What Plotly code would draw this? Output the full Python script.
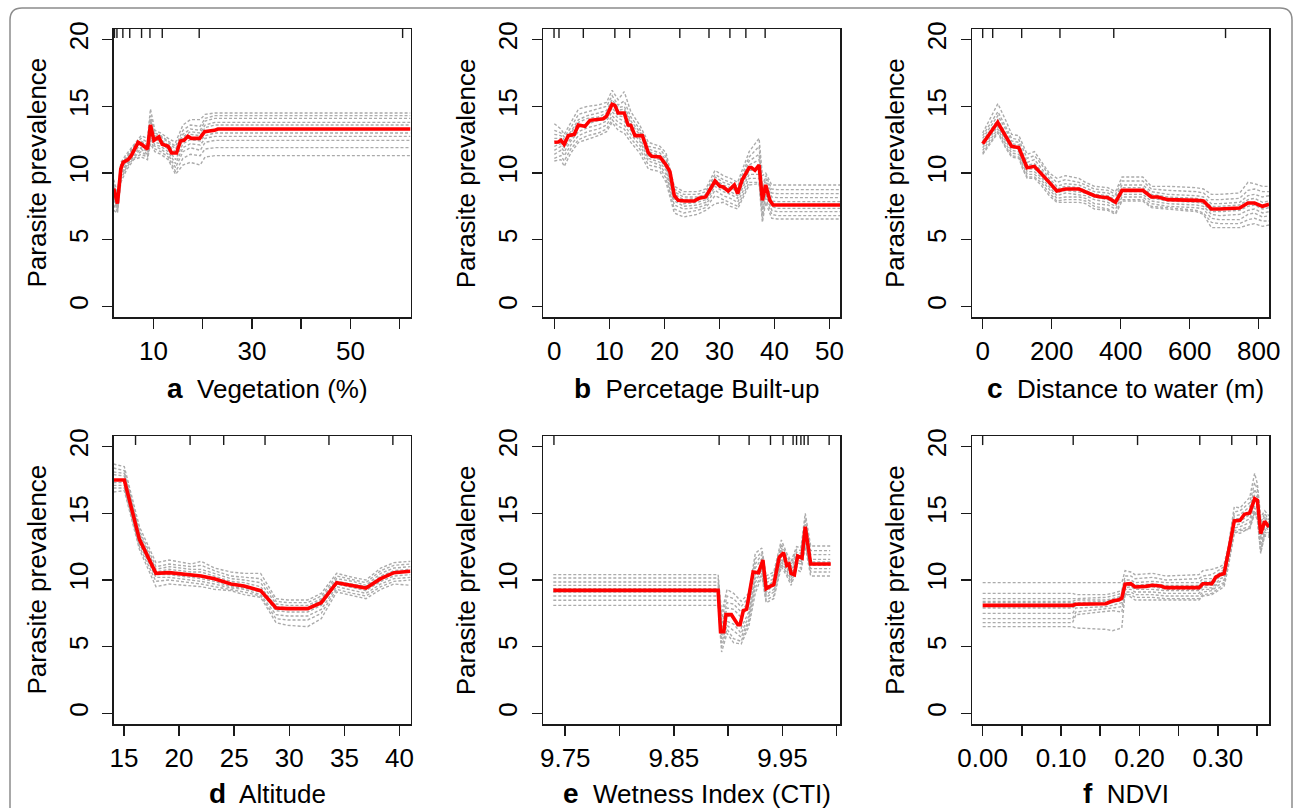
import plotly.graph_objects as go

FONT = "Liberation Sans, Arial, Helvetica, sans-serif"
W, H = 1295, 808
RED = "#ff0000"
GRAY = "#ababab"
INK = "#1a1a1a"

Y_TICKS = [0, 5, 10, 15, 20]
Y_RANGE = [-0.8, 20.8]
RUG_TOP, RUG_BOTTOM = 20.8, 20.12
Y_TITLE = "Parasite prevalence"

# ---------------- panel a : Vegetation (%) ----------------
A_X = [1.95, 2.7, 3.38, 3.86, 4.87, 5.5, 6.9, 7.6, 8.8, 9.4, 10.1, 11.1, 11.8, 13.0, 13.7,
       14.7, 15.5, 16.2, 17.0, 17.7, 19.4, 20.4, 22.4, 23.1, 62.2]
A_Y = [8.83, 7.7, 10.3, 10.8, 11.0, 11.3, 12.3, 12.15, 11.8, 13.6, 12.45, 12.7, 12.15, 12.0, 11.5,
       11.5, 12.4, 12.45, 12.75, 12.6, 12.6, 13.1, 13.2, 13.3, 13.3]
A_GX = [1.95, 2.7, 3.4, 4.5, 6.0, 7.5, 8.8, 9.4, 10.3, 11.5, 13.0, 14.5, 16.0, 17.5, 19.5, 20.5, 22.5, 62.2]
A_GRAY = [
    [9.5, 8.5, 10.8, 11.4, 12.1, 12.8, 12.6, 14.8, 13.2, 13.0, 12.6, 12.3, 13.6, 14.0, 14.0, 14.4, 14.5, 14.5],
    [9.2, 8.1, 10.6, 11.2, 12.0, 12.6, 12.3, 14.3, 13.0, 12.8, 12.4, 12.0, 13.2, 13.6, 13.5, 14.1, 14.3, 14.3],
    [9.0, 8.0, 10.5, 11.1, 11.9, 12.4, 12.1, 14.0, 12.8, 12.7, 12.3, 11.8, 12.9, 13.3, 13.2, 13.9, 14.1, 14.1],
    [8.9, 7.9, 10.4, 11.0, 11.8, 12.3, 12.0, 13.8, 12.7, 12.5, 12.1, 11.6, 12.7, 13.1, 13.0, 13.6, 13.8, 13.8],
    [8.6, 7.6, 10.2, 10.9, 11.6, 12.1, 11.8, 13.4, 12.5, 12.4, 12.0, 11.4, 12.5, 12.9, 12.8, 13.4, 13.6, 13.6],
    [8.4, 7.4, 10.0, 10.7, 11.5, 11.9, 11.6, 13.0, 12.3, 12.2, 11.8, 11.0, 12.2, 12.5, 12.4, 12.8, 13.0, 13.0],
    [8.2, 7.3, 9.9, 10.6, 11.3, 11.8, 11.4, 12.8, 12.1, 12.0, 11.6, 10.7, 11.9, 12.2, 12.1, 12.6, 12.75, 12.75],
    [8.0, 7.2, 9.7, 10.5, 11.2, 11.6, 11.3, 12.6, 12.0, 11.8, 11.4, 10.4, 11.6, 11.9, 11.7, 12.3, 12.45, 12.45],
    [7.6, 7.1, 9.5, 10.4, 11.1, 11.4, 11.2, 12.4, 11.8, 11.6, 11.2, 10.1, 11.1, 11.4, 11.3, 11.8, 11.9, 11.9],
    [7.2, 7.0, 9.3, 10.2, 11.0, 11.2, 11.0, 12.2, 11.6, 11.4, 11.0, 9.9, 10.6, 10.8, 10.6, 11.2, 11.3, 11.3],
]
A_RUG = [2.1, 2.6, 3.8, 5.2, 7.6, 9.3, 11.8, 19.3, 60.6]
A_TICKS = [10, 20, 30, 40, 50, 60]
A_TICKTEXT = ["10", "", "30", "", "50", ""]
A_RANGE = [1.9, 62.2]

# ---------------- panel b : Percetage Built-up ----------------
B_X = [0, 0.73, 1.2, 1.8, 2.54, 3.63, 4.36, 5.57, 6.48, 7.7, 8.9, 9.5, 10.5, 11.0, 11.6, 12.7, 13.4,
       13.9, 14.65, 16.0, 17.1, 17.7, 19.2, 20.3, 21.0, 21.8, 22.5, 23.7, 25.4, 26.3, 27.5, 29.2,
       30.1, 30.7, 31.6, 32.7, 33.3, 34.1, 35.4, 35.8, 36.45, 37.2, 37.8, 38.4, 39.15, 39.75, 51.9]
B_Y = [12.3, 12.33, 12.45, 12.15, 12.8, 12.9, 13.6, 13.5, 13.95, 14.0, 14.07, 14.27, 15.15, 15.07,
       14.5, 14.5, 13.6, 13.57, 12.8, 12.8, 11.5, 11.25, 11.2, 10.6, 10.1, 8.3, 7.95, 7.9, 7.9, 8.1,
       8.2, 9.4, 9.0, 8.95, 8.65, 9.1, 8.45, 9.45, 10.4, 10.4, 10.2, 10.6, 7.95, 9.1, 7.95, 7.6, 7.6]
B_GX = [0, 1.2, 1.8, 3.0, 4.4, 6.0, 8.0, 9.5, 10.5, 11.6, 12.7, 13.9, 15.5, 17.1, 19.2, 20.3, 21.8,
        23.5, 26.0, 27.5, 29.2, 30.7, 32.0, 33.3, 35.4, 37.2, 37.8, 38.4, 39.5, 40.5, 51.9]
B_GRAY = [
    [13.7, 13.3, 12.9, 13.8, 14.8, 15.0, 15.1, 15.3, 16.2, 15.5, 16.1, 14.6, 13.6, 12.3, 12.0, 11.5, 9.0, 8.6, 8.6, 8.8, 10.2, 9.8, 9.6, 9.3, 11.6, 12.6, 9.8, 10.0, 9.1, 9.1, 9.1],
    [13.2, 13.0, 12.7, 13.4, 14.4, 14.6, 14.8, 15.0, 15.8, 15.1, 15.4, 14.2, 13.3, 12.0, 11.8, 11.2, 8.8, 8.4, 8.4, 8.6, 9.9, 9.5, 9.3, 9.0, 11.2, 12.0, 9.0, 9.8, 8.8, 8.75, 8.75],
    [12.9, 12.8, 12.5, 13.1, 14.0, 14.3, 14.5, 14.7, 15.5, 14.9, 15.0, 13.9, 13.1, 11.8, 11.5, 11.0, 8.6, 8.2, 8.2, 8.4, 9.7, 9.3, 9.1, 8.8, 10.9, 11.4, 8.6, 9.6, 8.5, 8.45, 8.45],
    [12.6, 12.6, 12.3, 13.0, 13.8, 14.1, 14.2, 14.5, 15.3, 14.7, 14.8, 13.7, 12.9, 11.6, 11.3, 10.8, 8.4, 8.0, 8.1, 8.3, 9.5, 9.1, 8.9, 8.6, 10.6, 11.0, 8.3, 9.3, 8.2, 8.15, 8.15],
    [12.0, 12.2, 11.9, 12.6, 13.4, 13.7, 13.9, 14.1, 14.9, 14.3, 14.2, 13.4, 12.6, 11.3, 11.0, 10.4, 8.1, 7.7, 7.8, 8.0, 9.2, 8.8, 8.6, 8.3, 10.2, 10.2, 7.7, 8.9, 7.9, 7.85, 7.85],
    [11.7, 12.0, 11.6, 12.4, 13.1, 13.4, 13.6, 13.9, 14.6, 14.1, 13.9, 13.2, 12.4, 11.1, 10.8, 10.2, 7.9, 7.5, 7.6, 7.8, 9.0, 8.6, 8.4, 8.1, 9.9, 9.9, 7.3, 8.7, 7.5, 7.35, 7.35],
    [11.4, 11.7, 11.3, 12.1, 12.8, 13.1, 13.3, 13.6, 14.3, 13.8, 13.6, 12.9, 12.1, 10.9, 10.6, 9.9, 7.6, 7.3, 7.4, 7.6, 8.7, 8.3, 8.1, 7.8, 9.6, 9.6, 7.0, 8.4, 7.2, 7.1, 7.1],
    [11.1, 11.3, 10.9, 11.8, 12.5, 12.8, 13.0, 13.3, 14.0, 13.5, 13.3, 12.6, 11.8, 10.6, 10.4, 9.6, 7.3, 7.0, 7.2, 7.4, 8.3, 8.0, 7.8, 7.5, 9.3, 9.3, 6.6, 8.1, 6.9, 6.8, 6.8],
    [10.9, 11.0, 10.5, 11.5, 12.3, 12.5, 12.8, 13.1, 13.8, 13.2, 13.0, 12.3, 11.5, 10.3, 10.1, 9.3, 7.0, 6.7, 6.9, 7.2, 7.7, 7.8, 7.5, 7.3, 9.1, 9.2, 6.3, 7.8, 6.6, 6.55, 6.55],
]
B_RUG = [-0.05, 0.85, 5.27, 11.0, 13.7, 22.8, 28.1, 31.9, 34.8, 38.3]
B_TICKS = [0, 10, 20, 30, 40, 50]
B_TICKTEXT = ["0", "10", "20", "30", "40", "50"]
B_RANGE = [-2.0, 51.9]

# ---------------- panel c : Distance to water (m) ----------------
C_X = [0, 43.5, 65.7, 84, 104.5, 116, 128.6, 150, 169, 193, 215, 240, 279, 298, 324, 343, 363, 385,
       404, 440, 464, 489, 508, 537, 581, 619, 640, 663, 687, 745, 769, 788, 811, 830]
C_Y = [12.2, 13.8, 12.8, 12.0, 11.9, 11.1, 10.4, 10.5, 10.0, 9.3, 8.65, 8.8, 8.8, 8.6, 8.3, 8.2, 8.15,
       7.8, 8.7, 8.7, 8.7, 8.2, 8.2, 8.0, 8.0, 7.95, 7.9, 7.3, 7.3, 7.38, 7.75, 7.75, 7.5, 7.65]
C_GX = [0, 44, 66, 84, 105, 116, 129, 150, 169, 193, 215, 240, 279, 298, 324, 363, 385, 404, 464, 489,
        537, 619, 640, 663, 687, 745, 769, 788, 811, 830]
C_GRAY = [
    [13.0, 15.2, 14.0, 12.9, 12.8, 12.1, 11.4, 11.6, 10.9, 10.0, 9.6, 9.8, 9.6, 9.3, 9.0, 8.9, 8.6, 9.7, 9.7, 9.0, 9.0, 8.9, 8.8, 8.4, 8.4, 8.5, 9.3, 9.2, 9.0, 9.0],
    [12.8, 14.6, 13.5, 12.6, 12.5, 11.8, 11.1, 11.3, 10.7, 9.8, 9.3, 9.5, 9.3, 9.1, 8.8, 8.7, 8.4, 9.4, 9.4, 8.8, 8.7, 8.6, 8.5, 8.0, 8.0, 8.1, 8.7, 8.8, 8.6, 8.6],
    [12.6, 14.3, 13.3, 12.4, 12.3, 11.5, 10.8, 11.0, 10.4, 9.6, 9.0, 9.2, 9.1, 8.9, 8.6, 8.5, 8.2, 9.1, 9.1, 8.6, 8.4, 8.3, 8.2, 7.7, 7.7, 7.8, 8.3, 8.4, 8.2, 8.3],
    [12.4, 14.0, 13.0, 12.2, 12.1, 11.3, 10.6, 10.7, 10.2, 9.4, 8.8, 9.0, 8.9, 8.7, 8.4, 8.3, 8.0, 8.9, 8.9, 8.4, 8.2, 8.1, 8.0, 7.5, 7.5, 7.6, 8.0, 8.1, 7.8, 7.9],
    [12.1, 13.7, 12.6, 11.9, 11.8, 11.0, 10.3, 10.3, 9.9, 9.2, 8.5, 8.7, 8.6, 8.5, 8.2, 8.0, 7.7, 8.6, 8.6, 8.1, 7.9, 7.8, 7.7, 7.1, 7.1, 7.2, 7.5, 7.6, 7.3, 7.4],
    [11.9, 13.5, 12.4, 11.7, 11.6, 10.8, 10.1, 10.1, 9.7, 9.0, 8.3, 8.5, 8.4, 8.3, 8.0, 7.8, 7.5, 8.4, 8.4, 7.9, 7.7, 7.6, 7.5, 6.9, 6.8, 6.9, 7.2, 7.3, 7.0, 7.1],
    [11.7, 13.3, 12.2, 11.5, 11.4, 10.6, 9.9, 9.9, 9.5, 8.8, 8.1, 8.2, 8.2, 8.1, 7.7, 7.6, 7.3, 8.2, 8.2, 7.7, 7.5, 7.4, 7.3, 6.6, 6.5, 6.5, 6.9, 7.0, 6.7, 6.8],
    [11.5, 13.1, 12.0, 11.3, 11.2, 10.4, 9.7, 9.7, 9.3, 8.5, 7.9, 8.0, 8.0, 7.9, 7.5, 7.3, 7.0, 8.0, 8.0, 7.5, 7.4, 7.2, 7.0, 6.3, 6.2, 6.2, 6.5, 6.6, 6.4, 6.4],
    [11.4, 13.0, 11.9, 11.2, 11.1, 10.3, 9.6, 9.6, 9.1, 8.3, 7.8, 7.8, 7.8, 7.7, 7.3, 7.2, 6.9, 7.9, 7.9, 7.4, 7.3, 7.1, 6.9, 5.9, 5.9, 5.9, 6.1, 6.2, 6.0, 6.1],
]
C_RUG = [0, 29, 113, 224, 380, 704]
C_TICKS = [0, 200, 400, 600, 800]
C_TICKTEXT = ["0", "200", "400", "600", "800"]
C_RANGE = [-31, 830]

# ---------------- panel d : Altitude ----------------
D_X = [14.05, 15.03, 16.4, 17.9, 19.1, 21.1, 22.0, 23.2, 24.7, 25.9, 27.4, 28.8, 29.85, 31.67, 32.9,
       34.3, 35.75, 36.96, 38.3, 39.5, 41.0]
D_Y = [17.5, 17.5, 13.05, 10.5, 10.55, 10.35, 10.3, 10.1, 9.7, 9.55, 9.2, 7.9, 7.85, 7.85, 8.3, 9.8,
       9.55, 9.4, 10.1, 10.55, 10.65]
D_GX = D_X
D_GRAY = [
    [18.7, 18.5, 14.0, 11.3, 11.5, 11.2, 11.4, 10.9, 10.6, 10.5, 10.5, 8.6, 8.5, 8.5, 9.0, 10.5, 10.2, 10.0, 10.9, 11.3, 11.4],
    [18.4, 18.2, 13.7, 11.0, 11.2, 11.0, 11.1, 10.7, 10.3, 10.2, 10.1, 8.4, 8.3, 8.3, 8.8, 10.3, 10.0, 9.8, 10.7, 11.1, 11.2],
    [18.1, 18.0, 13.5, 10.8, 11.0, 10.8, 10.8, 10.5, 10.1, 10.0, 9.8, 8.2, 8.1, 8.1, 8.6, 10.1, 9.9, 9.6, 10.5, 10.9, 11.0],
    [17.9, 17.8, 13.3, 10.6, 10.8, 10.6, 10.6, 10.3, 9.9, 9.8, 9.5, 8.0, 7.9, 7.9, 8.5, 9.9, 9.7, 9.5, 10.3, 10.7, 10.8],
    [17.3, 17.3, 12.9, 10.4, 10.4, 10.2, 10.1, 9.9, 9.5, 9.4, 9.1, 7.7, 7.6, 7.6, 8.1, 9.7, 9.4, 9.2, 9.9, 10.3, 10.4],
    [17.1, 17.1, 12.7, 10.2, 10.2, 10.0, 9.9, 9.7, 9.4, 9.3, 8.9, 7.4, 7.3, 7.3, 7.8, 9.5, 9.2, 9.0, 9.7, 10.1, 10.2],
    [16.9, 16.9, 12.5, 9.9, 10.0, 9.8, 9.7, 9.5, 9.3, 9.1, 8.8, 7.1, 7.0, 7.0, 7.5, 9.3, 9.0, 8.8, 9.5, 9.9, 10.0],
    [16.6, 16.7, 12.3, 9.5, 9.7, 9.6, 9.5, 9.3, 9.2, 8.9, 8.7, 6.8, 6.6, 6.5, 7.1, 9.1, 8.8, 8.6, 9.3, 9.7, 9.6],
]
D_RUG = [16.05, 21.0, 24.05, 27.8, 33.6, 39.4]
D_TICKS = [15, 20, 25, 30, 35, 40]
D_TICKTEXT = ["15", "20", "25", "30", "35", "40"]
D_RANGE = [14.05, 41.0]

# ---------------- panel e : Wetness Index (CTI) ----------------
E_X = [9.739, 9.8908, 9.893, 9.896, 9.898, 9.903, 9.909, 9.911, 9.914, 9.917, 9.923, 9.928, 9.932,
       9.935, 9.938, 9.942, 9.947, 9.951, 9.954, 9.956, 9.958, 9.961, 9.964, 9.968, 9.971, 9.976, 9.9945]
E_Y = [9.22, 9.22, 6.12, 6.12, 7.4, 7.4, 6.65, 6.65, 7.7, 7.8, 10.6, 10.55, 11.5, 9.35, 9.5, 9.65,
       11.7, 12.05, 11.1, 11.2, 10.5, 10.4, 11.8, 11.65, 14.0, 11.2, 11.2]
E_GX = [9.739, 9.8908, 9.894, 9.899, 9.905, 9.912, 9.919, 9.925, 9.931, 9.935, 9.942, 9.949, 9.954,
        9.958, 9.963, 9.967, 9.971, 9.976, 9.994]
E_GRAY = [
    [10.4, 10.4, 7.5, 9.3, 9.0, 8.4, 9.0, 12.0, 12.4, 10.3, 10.6, 13.0, 12.0, 11.4, 12.5, 12.4, 15.0, 12.55, 12.55],
    [10.15, 10.15, 7.0, 8.8, 8.6, 8.0, 8.7, 11.6, 12.1, 10.0, 10.4, 12.7, 11.8, 11.2, 12.3, 12.2, 14.6, 12.2, 12.2],
    [9.85, 9.85, 6.6, 8.3, 8.2, 7.6, 8.4, 11.2, 11.9, 9.8, 10.1, 12.4, 11.6, 11.0, 12.1, 12.0, 14.2, 11.9, 11.9],
    [9.6, 9.6, 6.3, 7.9, 7.8, 7.2, 8.1, 10.9, 11.6, 9.5, 9.9, 12.2, 11.4, 10.7, 11.9, 11.8, 13.8, 11.55, 11.55],
    [9.35, 9.35, 5.9, 7.3, 7.2, 6.4, 7.6, 10.4, 11.2, 9.1, 9.6, 11.8, 11.1, 10.4, 11.7, 11.6, 13.6, 11.35, 11.35],
    [9.1, 9.1, 5.6, 6.9, 6.7, 6.0, 7.3, 10.1, 11.0, 8.9, 9.3, 11.6, 10.9, 10.2, 11.5, 11.4, 13.3, 11.1, 11.1],
    [8.8, 8.8, 5.3, 6.6, 6.2, 5.7, 7.0, 9.8, 10.8, 8.7, 9.1, 11.4, 10.7, 10.0, 11.3, 11.2, 13.0, 10.85, 10.85],
    [8.48, 8.48, 5.0, 6.3, 5.6, 5.4, 6.8, 9.4, 10.5, 8.5, 8.8, 11.2, 10.5, 9.8, 11.0, 10.9, 12.8, 10.6, 10.6],
    [8.1, 8.1, 4.6, 6.0, 5.3, 5.2, 6.5, 9.0, 10.3, 8.3, 8.6, 11.0, 10.3, 9.6, 10.8, 10.6, 12.5, 10.3, 10.3],
]
E_RUG = [9.7396, 9.8917, 9.9193, 9.939, 9.9506, 9.9598, 9.963, 9.967, 9.970, 9.9736, 9.993]
E_TICKS = [9.75, 9.80, 9.85, 9.90, 9.95, 10.00]
E_TICKTEXT = ["9.75", "", "9.85", "", "9.95", ""]
E_RANGE = [9.7298, 10.003]

# ---------------- panel f : NDVI ----------------
F_X = [0, 0.1147, 0.119, 0.157, 0.1657, 0.174, 0.1775, 0.1817, 0.189, 0.1945, 0.208, 0.2167, 0.227,
       0.2336, 0.276, 0.281, 0.2924, 0.2975, 0.3029, 0.308, 0.3135, 0.321, 0.3284, 0.334, 0.3407,
       0.347, 0.3505, 0.3547, 0.3598, 0.3653]
F_Y = [8.1, 8.1, 8.18, 8.22, 8.42, 8.52, 8.65, 9.68, 9.72, 9.48, 9.52, 9.6, 9.55, 9.43, 9.43, 9.72,
       9.72, 10.22, 10.4, 10.48, 12.1, 14.43, 14.48, 14.93, 15.03, 16.1, 15.98, 13.48, 14.4, 13.98]
F_GX = [0, 0.1147, 0.119, 0.157, 0.1657, 0.1775, 0.1817, 0.189, 0.1945, 0.2167, 0.2336, 0.276, 0.281,
        0.2924, 0.3029, 0.308, 0.3135, 0.321, 0.3284, 0.3407, 0.347, 0.3505, 0.3547, 0.3598, 0.3653]
F_GRAY = [
    [9.8, 9.8, 9.8, 9.8, 9.8, 9.8, 10.7, 10.6, 10.4, 10.5, 10.3, 10.4, 10.7, 10.8, 11.0, 11.2, 12.6, 15.5, 15.4, 16.2, 18.0, 17.2, 14.7, 15.2, 14.8],
    [9.0, 9.0, 8.9, 8.9, 9.0, 9.2, 10.3, 10.3, 10.1, 10.2, 10.0, 10.1, 10.3, 10.4, 10.8, 11.0, 12.4, 15.1, 15.2, 15.8, 17.3, 16.8, 14.3, 15.0, 14.5],
    [8.6, 8.6, 8.6, 8.7, 8.8, 9.0, 10.0, 10.0, 9.8, 9.9, 9.8, 9.8, 10.1, 10.1, 10.6, 10.8, 12.3, 14.8, 14.9, 15.5, 16.8, 16.4, 14.0, 14.8, 14.3],
    [8.4, 8.4, 8.5, 8.5, 8.6, 8.8, 9.8, 9.8, 9.6, 9.7, 9.6, 9.6, 9.9, 9.9, 10.5, 10.6, 12.2, 14.6, 14.6, 15.2, 16.4, 16.2, 13.8, 14.6, 14.1],
    [8.3, 8.3, 8.3, 8.4, 8.5, 8.7, 9.6, 9.6, 9.4, 9.5, 9.3, 9.3, 9.6, 9.6, 10.3, 10.4, 12.0, 14.3, 14.4, 14.9, 15.9, 15.8, 13.3, 14.2, 13.9],
    [7.9, 7.9, 8.1, 8.2, 8.3, 8.5, 9.4, 9.5, 9.3, 9.3, 9.2, 9.2, 9.5, 9.4, 10.1, 10.2, 11.8, 14.1, 14.2, 14.6, 15.6, 15.4, 13.0, 14.0, 13.7],
    [7.5, 7.5, 7.9, 8.0, 8.1, 8.3, 9.3, 9.3, 9.1, 9.1, 9.0, 9.0, 9.3, 9.3, 9.9, 10.0, 11.6, 13.9, 14.0, 14.3, 15.4, 15.1, 12.6, 13.8, 13.5],
    [7.1, 7.1, 7.6, 7.8, 7.9, 8.0, 9.1, 9.1, 8.9, 8.9, 8.8, 8.8, 9.1, 9.2, 9.7, 9.8, 11.4, 13.7, 13.8, 14.0, 15.2, 14.8, 12.3, 13.6, 13.4],
    [6.8, 6.8, 7.4, 7.6, 7.7, 7.6, 8.9, 8.9, 8.7, 8.7, 8.6, 8.6, 8.9, 9.0, 9.5, 9.7, 11.2, 13.5, 13.7, 13.8, 15.0, 14.5, 12.0, 13.4, 13.3],
    [6.5, 6.5, 6.4, 6.3, 6.2, 6.4, 9.0, 8.7, 8.5, 8.5, 8.5, 8.5, 8.8, 8.9, 9.3, 9.5, 11.0, 13.6, 13.5, 13.9, 15.1, 14.6, 12.1, 13.3, 13.2],
]
F_RUG = [0.0, 0.1155, 0.1976, 0.277, 0.3178, 0.3496]
F_TICKS = [0.00, 0.05, 0.10, 0.15, 0.20, 0.25, 0.30, 0.35]
F_TICKTEXT = ["0.00", "", "0.10", "", "0.20", "", "0.30", ""]
F_RANGE = [-0.0136, 0.3653]

LETTERS = ["a", "b", "c", "d", "e", "f"]
X_TITLES = ["Vegetation (%)", "Percetage Built-up", "Distance to water (m)",
            "Altitude", "Wetness Index (CTI)", "NDVI"]

panels = [
    (A_X, A_Y, A_GX, A_GRAY, A_RUG, A_TICKS, A_TICKTEXT, A_RANGE),
    (B_X, B_Y, B_GX, B_GRAY, B_RUG, B_TICKS, B_TICKTEXT, B_RANGE),
    (C_X, C_Y, C_GX, C_GRAY, C_RUG, C_TICKS, C_TICKTEXT, C_RANGE),
    (D_X, D_Y, D_GX, D_GRAY, D_RUG, D_TICKS, D_TICKTEXT, D_RANGE),
    (E_X, E_Y, E_GX, E_GRAY, E_RUG, E_TICKS, E_TICKTEXT, E_RANGE),
    (F_X, F_Y, F_GX, F_GRAY, F_RUG, F_TICKS, F_TICKTEXT, F_RANGE),
]

# plot-box pixel positions (layout only)
BOX_X = [(113.5, 410.5), (543.3, 840.0), (972.0, 1269.0)]
BOX_Y = [(29.0, 317.0), (436.0, 724.0)]
XTITLE_Y = [388.5, 793.5]

fig = go.Figure()
layout = dict(
    template="none",
    width=W, height=H,
    margin=dict(l=0, r=0, t=0, b=0, pad=0, autoexpand=False),
    paper_bgcolor="white", plot_bgcolor="white",
    showlegend=False,
    font=dict(family=FONT, color="black"),
)
annotations = []

for i, (px, py, gx, gray, rug, ticks, ticktext, xr) in enumerate(panels):
    sfx = "" if i == 0 else str(i + 1)
    xa, ya = "x" + sfx, "y" + sfx
    col, row = i % 3, i // 3
    x0, x1 = BOX_X[col]
    y0, y1 = BOX_Y[row]

    for g in gray:
        fig.add_trace(go.Scatter(x=gx, y=g, mode="lines", xaxis=xa, yaxis=ya,
                                 line=dict(color=GRAY, width=1.4, dash="3px,2px"),
                                 hoverinfo="skip"))
    fig.add_trace(go.Scatter(x=px, y=py, mode="lines", xaxis=xa, yaxis=ya,
                             line=dict(color=RED, width=3.6), hoverinfo="skip"))
    rx, ry = [], []
    for v in rug:
        rx += [v, v, None]
        ry += [RUG_TOP, RUG_BOTTOM, None]
    fig.add_trace(go.Scatter(x=rx, y=ry, mode="lines", xaxis=xa, yaxis=ya,
                             line=dict(color=INK, width=1.4), hoverinfo="skip"))

    common = dict(showline=True, linecolor=INK, linewidth=1.5, mirror=True,
                  ticks="outside", ticklen=10, tickwidth=1.5, tickcolor=INK,
                  showgrid=False, zeroline=False, automargin=False,
                  tickfont=dict(family=FONT, size=26, color="black"))
    layout["xaxis" + sfx] = dict(common, domain=[x0 / W, x1 / W], anchor=ya,
                                 range=xr, tickmode="array", tickvals=ticks, ticktext=ticktext)
    layout["yaxis" + sfx] = dict(common, domain=[1 - y1 / H, 1 - y0 / H], anchor=xa,
                                 range=Y_RANGE, tickmode="array", tickvals=Y_TICKS,
                                 ticktext=[str(t) for t in Y_TICKS], tickangle=-90,
                                 ticklabelstandoff=4)

    annotations.append(dict(
        text=Y_TITLE, textangle=-90, xref="paper", yref="paper",
        x=(x0 - 77) / W, y=1 - (y0 + y1) / 2 / H, xanchor="center", yanchor="middle",
        showarrow=False, font=dict(family=FONT, size=26, color="black")))
    annotations.append(dict(
        text='<span style="font-size:28px"><b>%s</b></span>\u00a0 %s' % (LETTERS[i], X_TITLES[i]),
        xref="paper", yref="paper",
        x=((x0 + x1) / 2 + 5) / W, y=1 - XTITLE_Y[row] / H,
        xanchor="center", yanchor="middle",
        showarrow=False, font=dict(family=FONT, size=26, color="black")))

layout["annotations"] = annotations

# rounded figure frame
fx0, fx1, fyt = 10 / W, 1292 / W, 1 - 8 / H
rxp, ryp = 12 / W, 12 / H
frame = (f"M {fx0},-0.05 L {fx0},{fyt - ryp} Q {fx0},{fyt} {fx0 + rxp},{fyt} "
         f"L {fx1 - rxp},{fyt} Q {fx1},{fyt} {fx1},{fyt - ryp} L {fx1},-0.05")
layout["shapes"] = [dict(type="path", xref="paper", yref="paper", path=frame,
                         line=dict(color="#8c8c8c", width=1.5))]

fig.update_layout(**layout)
fig.write_html("out.html",
               config={"displayModeBar": False, "staticPlot": True},
               post_script="document.body.style.margin='0';document.body.style.overflow='hidden';")
